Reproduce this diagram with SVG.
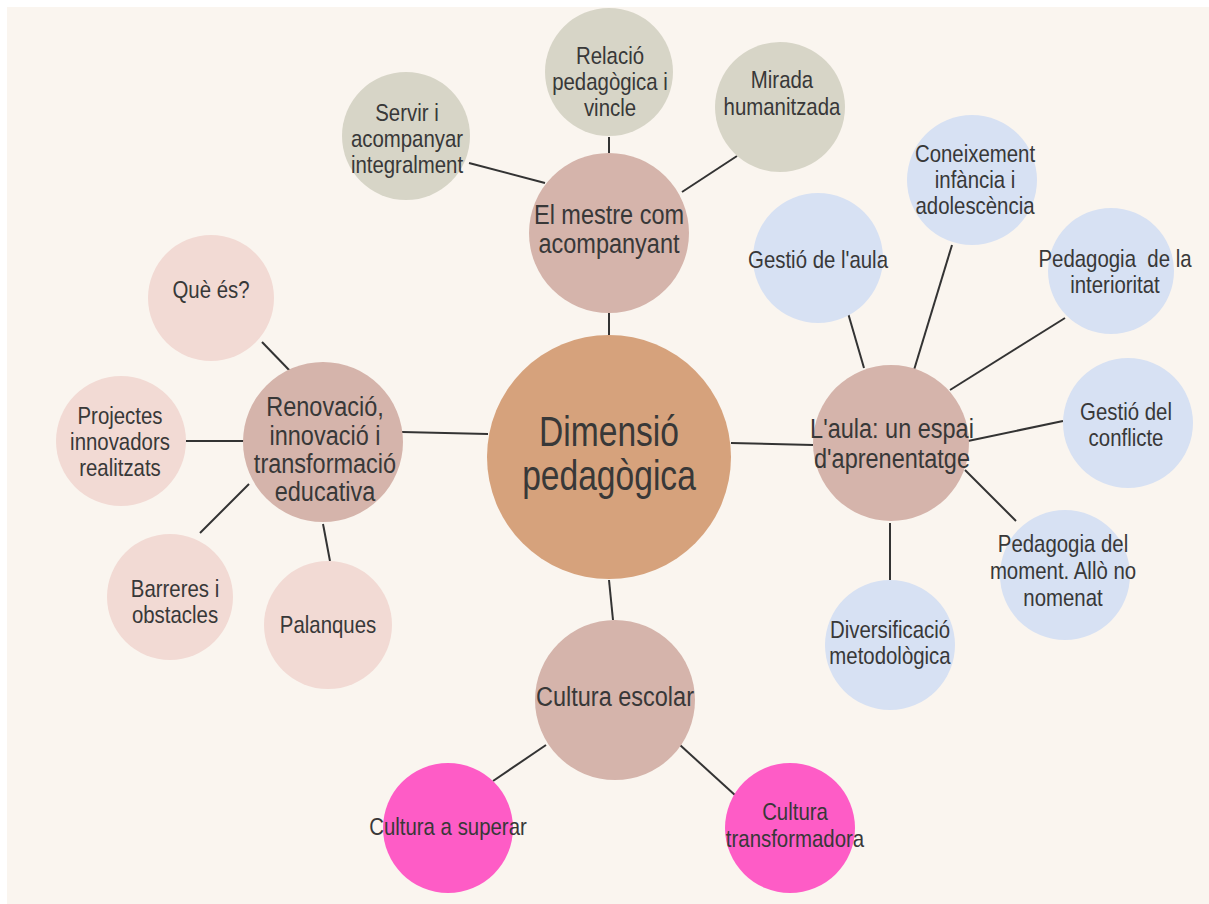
<svg xmlns="http://www.w3.org/2000/svg" width="1209" height="904" viewBox="0 0 1209 904">
<style>
text{font-family:"Liberation Sans",Arial,sans-serif;fill:#383838;text-anchor:middle}
.leaf{font-size:24px}
.mid{font-size:27px}
.main{font-size:42px}
.ln{stroke:#333;stroke-width:2;fill:none}
.c0{fill:#d6a27c}
.c1{fill:#d5b4ab}
.c2{fill:#d7d5c7}
.c3{fill:#f2dad4}
.c4{fill:#d7e1f3}
.c5{fill:#fe5cc6}
</style>
<rect x="0" y="0" width="1209" height="904" fill="#ffffff"/>
<rect x="7" y="7" width="1202" height="897" fill="#faf5ef"/>
<g id="connectors">
<line class="ln" x1="609" y1="313" x2="609" y2="337"/>
<line class="ln" x1="609" y1="137" x2="609" y2="153"/>
<line class="ln" x1="682" y1="192" x2="737" y2="156"/>
<line class="ln" x1="469" y1="163" x2="545" y2="183"/>
<line class="ln" x1="402" y1="432" x2="488" y2="434"/>
<line class="ln" x1="262" y1="342" x2="291" y2="372"/>
<line class="ln" x1="186" y1="441" x2="244" y2="441"/>
<line class="ln" x1="200" y1="533" x2="249" y2="484"/>
<line class="ln" x1="323" y1="524" x2="330" y2="561"/>
<line class="ln" x1="731" y1="443" x2="813" y2="445"/>
<line class="ln" x1="609" y1="580" x2="613" y2="620"/>
<line class="ln" x1="493" y1="781" x2="546" y2="745"/>
<line class="ln" x1="680" y1="745" x2="736" y2="796"/>
<line class="ln" x1="848" y1="313" x2="864" y2="368"/>
<line class="ln" x1="952" y1="245" x2="914" y2="370"/>
<line class="ln" x1="1065" y1="318" x2="950" y2="390"/>
<line class="ln" x1="1063" y1="421" x2="968" y2="441"/>
<line class="ln" x1="1016" y1="521" x2="965" y2="470"/>
<line class="ln" x1="890" y1="523" x2="890" y2="581"/>
</g>
<g id="n-center"><circle class="c0" cx="609" cy="457" r="122"/><text class="main" transform="translate(609 0) scale(0.8 1)"><tspan x="0" y="446">Dimensió</tspan><tspan x="0" y="490">pedagògica</tspan></text></g>
<g id="n-mestre"><circle class="c1" cx="609" cy="233" r="80"/><text class="mid" transform="translate(609 0) scale(0.87 1)"><tspan x="0" y="224">El mestre com</tspan><tspan x="0" y="253">acompanyant</tspan></text></g>
<g id="n-relacio"><circle class="c2" cx="609" cy="72" r="64"/><text class="leaf" transform="translate(610 0) scale(0.85 1)"><tspan x="0" y="64">Relació</tspan><tspan x="0" y="90">pedagògica i</tspan><tspan x="0" y="116">vincle</tspan></text></g>
<g id="n-mirada"><circle class="c2" cx="780" cy="107" r="65"/><text class="leaf" transform="translate(782 0) scale(0.85 1)"><tspan x="0" y="88">Mirada</tspan><tspan x="0" y="115">humanitzada</tspan></text></g>
<g id="n-servir"><circle class="c2" cx="406" cy="136" r="64"/><text class="leaf" transform="translate(407 0) scale(0.85 1)"><tspan x="0" y="121">Servir i</tspan><tspan x="0" y="147">acompanyar</tspan><tspan x="0" y="173">integralment</tspan></text></g>
<g id="n-renovacio"><circle class="c1" cx="323" cy="442" r="80"/><text class="mid" transform="translate(325 0) scale(0.87 1)"><tspan x="0" y="416">Renovació,</tspan><tspan x="0" y="445">innovació i</tspan><tspan x="0" y="473">transformació</tspan><tspan x="0" y="501">educativa</tspan></text></g>
<g id="n-quees"><circle class="c3" cx="211" cy="298" r="63"/><text class="leaf" transform="translate(211 0) scale(0.85 1)"><tspan x="0" y="298">Què és?</tspan></text></g>
<g id="n-projectes"><circle class="c3" cx="121" cy="441" r="65"/><text class="leaf" transform="translate(120 0) scale(0.85 1)"><tspan x="0" y="424">Projectes</tspan><tspan x="0" y="450">innovadors</tspan><tspan x="0" y="476">realitzats</tspan></text></g>
<g id="n-barreres"><circle class="c3" cx="170" cy="597" r="63"/><text class="leaf" transform="translate(175 0) scale(0.85 1)"><tspan x="0" y="597">Barreres i</tspan><tspan x="0" y="623">obstacles</tspan></text></g>
<g id="n-palanques"><circle class="c3" cx="328" cy="625" r="64"/><text class="leaf" transform="translate(328 0) scale(0.85 1)"><tspan x="0" y="633">Palanques</tspan></text></g>
<g id="n-cultura"><circle class="c1" cx="615" cy="700" r="80"/><text class="mid" transform="translate(615 0) scale(0.87 1)"><tspan x="0" y="706">Cultura escolar</tspan></text></g>
<g id="n-superar"><circle class="c5" cx="448" cy="828" r="65"/><text class="leaf" transform="translate(448 0) scale(0.85 1)"><tspan x="0" y="835">Cultura a superar</tspan></text></g>
<g id="n-transformadora"><circle class="c5" cx="790" cy="828" r="65"/><text class="leaf" transform="translate(795 0) scale(0.85 1)"><tspan x="0" y="820">Cultura</tspan><tspan x="0" y="847">transformadora</tspan></text></g>
<g id="n-aula"><circle class="c1" cx="891" cy="443" r="78"/><text class="mid" transform="translate(892 0) scale(0.87 1)"><tspan x="0" y="438">L'aula: un espai</tspan><tspan x="0" y="468">d'aprenentatge</tspan></text></g>
<g id="n-gestioaula"><circle class="c4" cx="818" cy="258" r="65"/><text class="leaf" transform="translate(818 0) scale(0.85 1)"><tspan x="0" y="268">Gestió de l'aula</tspan></text></g>
<g id="n-coneixement"><circle class="c4" cx="972" cy="180" r="65"/><text class="leaf" transform="translate(975 0) scale(0.85 1)"><tspan x="0" y="162">Coneixement</tspan><tspan x="0" y="188">infància i</tspan><tspan x="0" y="214">adolescència</tspan></text></g>
<g id="n-interioritat"><circle class="c4" cx="1111" cy="271" r="63"/><text class="leaf" xml:space="preserve" transform="translate(1115 0) scale(0.85 1)"><tspan x="0" y="267">Pedagogia  de la</tspan><tspan x="0" y="293">interioritat</tspan></text></g>
<g id="n-conflicte"><circle class="c4" cx="1128" cy="423" r="65"/><text class="leaf" transform="translate(1126 0) scale(0.85 1)"><tspan x="0" y="420">Gestió del</tspan><tspan x="0" y="446">conflicte</tspan></text></g>
<g id="n-moment"><circle class="c4" cx="1065" cy="575" r="65"/><text class="leaf" transform="translate(1063 0) scale(0.85 1)"><tspan x="0" y="552">Pedagogia del</tspan><tspan x="0" y="579">moment. Allò no</tspan><tspan x="0" y="606">nomenat</tspan></text></g>
<g id="n-diversificacio"><circle class="c4" cx="890" cy="645" r="65"/><text class="leaf" transform="translate(890 0) scale(0.85 1)"><tspan x="0" y="638">Diversificació</tspan><tspan x="0" y="664">metodològica</tspan></text></g>
</svg>
